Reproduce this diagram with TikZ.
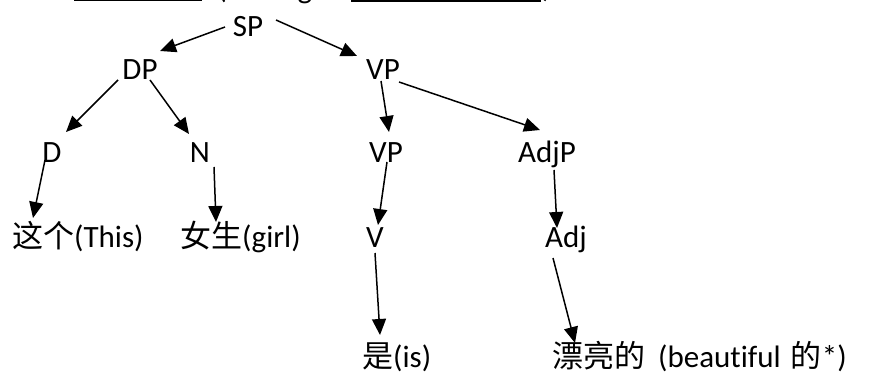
\documentclass[tikz,border=0pt]{standalone}
\usepackage{fontspec}
\setmainfont[Ligatures=NoCommon]{Carlito}
\newfontfamily\cjk{Noto Sans CJK SC}
\usetikzlibrary{arrows.meta,calc}

\begin{document}
\begin{tikzpicture}[x=1pt,y=-1pt,
  lbl/.style={inner sep=0pt, anchor=base, font=\fontsize{31}{37}\selectfont},
  word/.style={inner sep=0pt, anchor=base west, font=\fontsize{31}{37}\selectfont},
  edge/.style={line width=1.5pt, -{Triangle[length=16pt,width=14pt]}}]
\useasboundingbox (0,0) rectangle (875,374);

% remains of the line of text above the tree
\begin{scope}
  \clip (0,0) rectangle (875,374);
  \node[lbl] (openp) at (222,-1) {(};
  \node[lbl] (gtail) at (305,-1) {g};
  \node[lbl] (closep) at (547,-2) {)};
  \coordinate (ua) at (74,0.8);
  \coordinate (ub) at (202,0.8);
  \coordinate (uc) at (351,1.2);
  \coordinate (ud) at (541,1.2);
  \draw[line width=1.3pt] (ua) -- (ub);
  \draw[line width=2.2pt] (uc) -- (ud);
\end{scope}

% tree labels
\node[lbl] (SP)   at (248,37)  {SP};
\node[lbl] (DP)   at (140,80)  {DP};
\node[lbl] (VP)   at (383,80)  {VP};
\node[lbl] (D)    at (52,163)  {D};
\node[lbl] (N)    at (200,163) {N};
\node[lbl] (VPb)  at (386,163) {VP};
\node[lbl] (AdjP) at (547,163) {AdjP};
\node[lbl] (V)    at (375,247) {V};
\node[lbl] (Adj)  at (566,247) {Adj};

% words
\node[word] (w1) at (12,247)  {{\cjk 这个}(This)};
\node[word] (w2) at (180,247) {{\cjk 女生}(girl)};
\node[word] (w3) at (362,367) {{\cjk 是}(is)};
\node[word] (w4) at (552,367) {{\cjk 漂亮的}\hspace{13pt}(beautiful\hspace{10pt}{\cjk 的}*)};

% branches
\draw[edge] ($(SP.base)+(-23,-10)$) -- ($(DP.base)+(20,-29)$);
\draw[edge] ($(SP.base)+(28,-17)$)  -- ($(VP.base)+(-26,-24)$);
\draw[edge] ($(DP.base)+(-22,0)$)   -- ($(D.base)+(14,-31)$);
\draw[edge] ($(DP.base)+(10,0)$)    -- ($(N.base)+(-11,-29)$);
\draw[edge] ($(VP.base)+(-2,1)$)    -- ($(VPb.base)+(3,-31)$);
\draw[edge] ($(VP.base)+(16,2)$)    -- ($(AdjP.base)+(-7,-33)$);
\draw[edge] ($(VPb.base)+(1,-1)$)   -- ($(V.base)+(3,-22)$);
\draw[edge] ($(AdjP.base)+(7,7)$)   -- ($(Adj.base)+(-9,-19)$);
\draw[edge] ($(D.base)+(-7,-3)$)    -- ($(w1.base west)+(21,-29)$);
\draw[edge] ($(N.base)+(14,4)$)     -- ($(w2.base west)+(36,-25)$);
\draw[edge] ($(V.base)+(0,6)$)      -- ($(w3.base west)+(18,-32)$);
\draw[edge] ($(Adj.base)+(-13,11)$) -- ($(w4.base west)+(23,-24)$);
\end{tikzpicture}
\end{document}
